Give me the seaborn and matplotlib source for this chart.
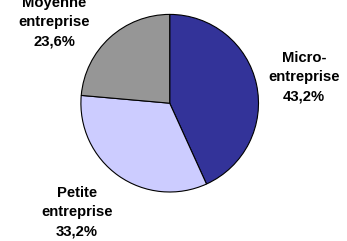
import matplotlib
matplotlib.use("Agg")
import matplotlib.pyplot as plt
import seaborn as sns

# data
categories = ["Micro-\nentreprise", "Petite\nentreprise", "Moyenne\nentreprise"]
shares = [43.2, 33.2, 23.6]
colors = ["#333399", "#CCCCFF", "#969696"]

sns.set_style("white")
plt.rcParams['font.family'] = ['Liberation Sans', 'DejaVu Sans']

fig = plt.figure(figsize=(3.47, 2.41), dpi=100)
ax = fig.add_axes([0, 0, 1, 1])

H = 241
cx, cy, r = 169.7, H - 103.2, 88.8
ax.pie(shares, colors=colors, startangle=90, counterclock=False,
       radius=r, center=(cx, cy),
       wedgeprops=dict(edgecolor="black", linewidth=0.8))

# label positions (pixel coords from top-left)
label_pos = [(304, 77.3), (77, 212.3), (54.3, 22.2)]
for name, val, (x, y) in zip(categories, shares, label_pos):
    txt = name + "\n" + f"{val:.1f}%".replace(".", ",")
    ax.text(x, H - y, txt, ha="center", va="center", fontsize=10.7,
            fontweight="bold", linespacing=1.45, color="black")

ax.set_xlim(0, 347)
ax.set_ylim(0, H)
ax.set_aspect("equal")
ax.axis("off")

fig.savefig("out.png", dpi=100)
